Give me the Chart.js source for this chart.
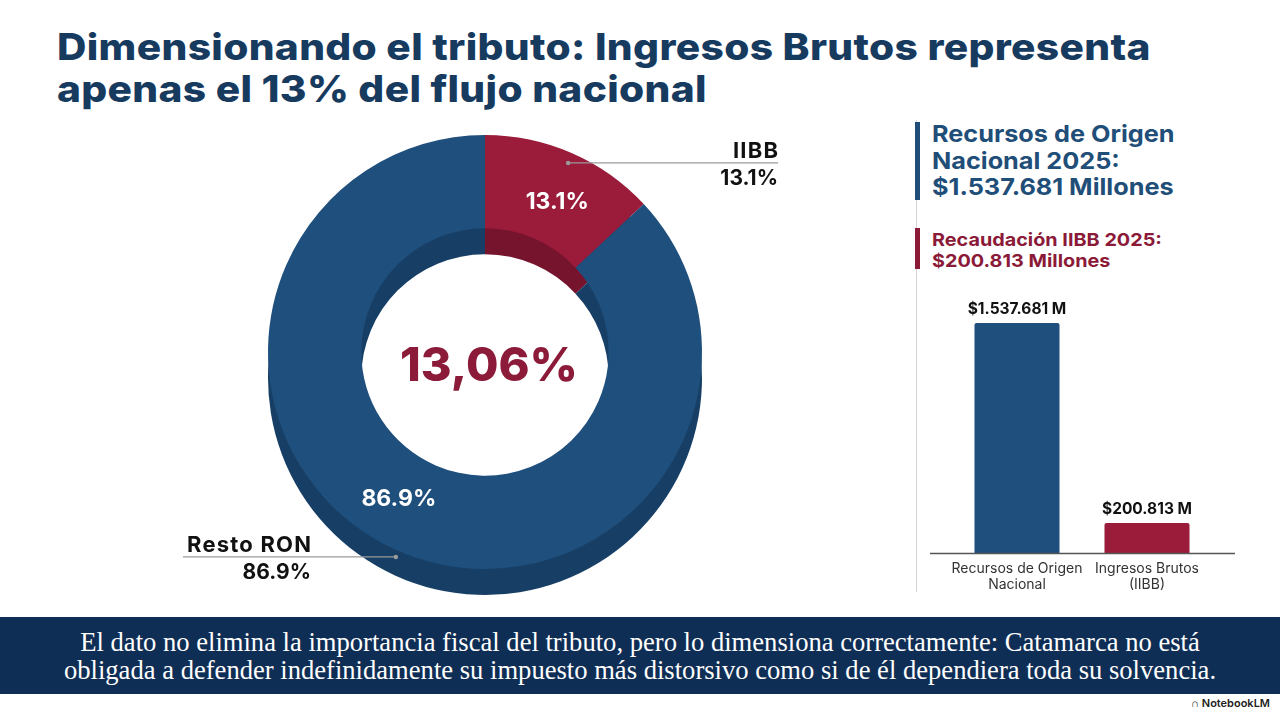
<!DOCTYPE html>
<html>
<head>
<meta charset="utf-8">
<script src="https://cdn.jsdelivr.net/npm/chart.js@4.4.1/dist/chart.umd.min.js"></script>
<style>
  html, body { margin:0; padding:0; background:#ffffff; }
  body { width:1280px; height:714px; position:relative; overflow:hidden; font-family: Inter, "Open Sans", sans-serif; }
  #title { position:absolute; left:57px; top:26px; font-weight:800; font-size:37px; line-height:42px; color:#173a5f;
           letter-spacing:0.3px; transform:scaleX(1.1); transform-origin:0 0; white-space:nowrap; }
  #donutWrap { position:absolute; left:160px; top:120px; width:640px; height:490px; }
  #barWrap { position:absolute; left:920px; top:290px; width:330px; height:320px; }
  #vline { position:absolute; left:916px; top:120px; width:1px; height:472px; background:#d6d6d6; }
  .acc { position:absolute; left:915px; width:5px; }
  #t1 { position:absolute; left:932px; top:121px; font-weight:700; font-size:23.5px; line-height:26.5px; color:#1f4e79;
        transform:scaleX(1.075); transform-origin:0 0; white-space:nowrap; }
  #t2 { position:absolute; left:932px; top:229px; font-weight:700; font-size:18px; line-height:21px; color:#8b1a38;
        transform:scaleX(1.1); transform-origin:0 0; white-space:nowrap; }
  #banner { position:absolute; left:0; top:617px; width:1280px; height:77px; background:#0f2e55; color:#fff;
            font-family:"Liberation Serif", "DejaVu Serif", serif; font-size:26.6px; line-height:28px; text-align:center;
            display:flex; align-items:center; justify-content:center; white-space:nowrap; }
  #nlm { position:absolute; right:10px; top:696px; font-size:11px; color:#222; font-weight:600; }
</style>
</head>
<body>
<div id="title">Dimensionando el tributo: Ingresos Brutos representa<br>apenas el 13% del flujo nacional</div>

<div id="donutWrap"><canvas id="donut" width="640" height="490"></canvas></div>

<div id="vline"></div>
<div class="acc" style="top:122px;height:78px;background:#1f4e79;"></div>
<div class="acc" style="top:228px;height:41px;background:#8b1a38;"></div>
<div id="t1">Recursos de Origen<br>Nacional 2025:<br>$1.537.681 Millones</div>
<div id="t2">Recaudación IIBB 2025:<br>$200.813 Millones</div>

<div id="barWrap"><canvas id="bars" width="330" height="320"></canvas></div>

<div id="banner"><div>El dato no elimina la importancia fiscal del tributo, pero lo dimensiona correctamente: Catamarca no está<br>obligada a defender indefinidamente su impuesto más distorsivo como si de él dependiera toda su solvencia.</div></div>
<div id="nlm">&#x2229; NotebookLM</div>

<script>
// ---- Data ----
const donutLabels = ['IIBB', 'Resto RON'];
const donutValues = [13.06, 86.94];
const donutShort = ['13.1%', '86.9%'];
const centerLabel = '13,06%';

const barCategories = [['Recursos de Origen', 'Nacional'], ['Ingresos Brutos', '(IIBB)']];
const barValues = [1537681, 200813];
const barValueLabels = ['$1.537.681 M', '$200.813 M'];

// ---- Styles ----
const faceColors = ['#9a1b3a', '#1f4f7c'];
const sideColors = ['#76142e', '#173f66'];
const DEPTH = 26;
const SANS = 'Inter, "Open Sans", sans-serif';

const depthPlugin = {
  id: 'depth',
  beforeDatasetsDraw(chart) {
    const ctx = chart.ctx;
    const meta = chart.getDatasetMeta(0);
    meta.data.forEach((arc, i) => {
      const p = arc.getProps(['x','y','startAngle','endAngle','innerRadius','outerRadius'], true);
      ctx.save();
      ctx.beginPath();
      ctx.arc(p.x, p.y + DEPTH, p.outerRadius, p.startAngle, p.endAngle);
      ctx.arc(p.x, p.y + DEPTH, p.innerRadius, p.endAngle, p.startAngle, true);
      ctx.closePath();
      ctx.fillStyle = sideColors[i];
      ctx.fill();
      ctx.restore();
    });
  },
  afterDatasetsDraw(chart) {
    const ctx = chart.ctx;
    const meta = chart.getDatasetMeta(0);
    ctx.save();
    // slice labels
    ctx.fillStyle = '#ffffff';
    ctx.font = '700 23px ' + SANS;
    ctx.textAlign = 'center';
    ctx.textBaseline = 'middle';
    const angOff = [0.033, 0.127];
    meta.data.forEach((arc, i) => {
      const p = arc.getProps(['x','y','startAngle','endAngle','innerRadius','outerRadius'], true);
      const mid = (p.startAngle + p.endAngle) / 2 + angOff[i];
      const r = (p.innerRadius + p.outerRadius) / 2 - 2;
      ctx.fillText(donutShort[i], p.x + Math.cos(mid) * r, p.y + Math.sin(mid) * r + 2);
    });
    // center label
    const a0 = meta.data[0].getProps(['x','y'], true);
    ctx.fillStyle = '#8c1b3a';
    ctx.font = '800 47px ' + SANS;
    ctx.fillText(centerLabel, a0.x + 4, a0.y + 15);

    // callouts
    ctx.lineWidth = 1.2;
    meta.data.forEach((arc, i) => {
      const p = arc.getProps(['x','y','startAngle','endAngle','innerRadius','outerRadius'], true);
      const mid = (p.startAngle + p.endAngle) / 2;
      const rr = i === 0 ? p.outerRadius * 0.96 : p.outerRadius * 1.03;
      const dx = p.x + Math.cos(mid) * rr;
      const dy = p.y + Math.sin(mid) * rr + (i === 0 ? 2 : 0);
      const ex = i === 0 ? p.x + 293 : p.x - 302;
      ctx.strokeStyle = '#9a9a9a';
      ctx.fillStyle = '#9a9a9a';
      ctx.beginPath(); ctx.moveTo(dx, dy); ctx.lineTo(ex, dy); ctx.stroke();
      ctx.beginPath(); ctx.arc(dx, dy, 2.2, 0, Math.PI * 2); ctx.fill();
      ctx.fillStyle = '#111111';
      ctx.textAlign = 'right';
      ctx.textBaseline = 'middle';
      const tx = i === 0 ? p.x + 293 : p.x - 174;
      ctx.font = '700 22px ' + SANS;
      ctx.letterSpacing = '1.2px';
      ctx.fillText(donutLabels[i], tx + 1.2, dy - 12);
      ctx.letterSpacing = '0px';
      ctx.font = '700 21px ' + SANS;
      ctx.fillText(donutShort[i], tx, dy + 16);
    });
    ctx.restore();
  }
};

new Chart(document.getElementById('donut'), {
  type: 'doughnut',
  data: {
    labels: donutLabels,
    datasets: [{ data: donutValues, backgroundColor: faceColors, borderWidth: 0, hoverOffset: 0 }]
  },
  options: {
    responsive: false,
    animation: false,
    cutout: '57%',
    layout: { padding: { left: 108, right: 98, top: 15, bottom: 41 } },
    plugins: { legend: { display: false }, tooltip: { enabled: false } }
  },
  plugins: [depthPlugin]
});

const barPlugin = {
  id: 'barLabels',
  afterDatasetsDraw(chart) {
    const ctx = chart.ctx;
    const xs = chart.scales.x, ys = chart.scales.y;
    ctx.save();
    // baseline
    const base = ys.getPixelForValue(0);
    ctx.strokeStyle = '#555555';
    ctx.lineWidth = 1.3;
    ctx.beginPath(); ctx.moveTo(10, base + 0.5); ctx.lineTo(315, base + 0.5); ctx.stroke();
    ctx.textAlign = 'center';
    barValues.forEach((v, i) => {
      const x = xs.getPixelForValue(i);
      const y = ys.getPixelForValue(v);
      ctx.fillStyle = '#111111';
      ctx.font = '700 15.5px ' + SANS;
      ctx.textBaseline = 'bottom';
      ctx.fillText(barValueLabels[i], x, y - 6);
      ctx.fillStyle = '#333333';
      ctx.font = '400 14px ' + SANS;
      ctx.textBaseline = 'top';
      barCategories[i].forEach((line, k) => ctx.fillText(line, x, base + 9 + k * 16));
    });
    ctx.restore();
  }
};

new Chart(document.getElementById('bars'), {
  type: 'bar',
  data: {
    labels: barCategories,
    datasets: [{ data: barValues, backgroundColor: ['#1f4f7c', '#9a1b3a'], borderRadius: 2, borderSkipped: 'bottom',
                 categoryPercentage: 1, barPercentage: 0.654 }]
  },
  options: {
    responsive: false,
    animation: false,
    layout: { padding: { left: 32, right: 38, top: 33, bottom: 57 } },
    scales: {
      x: { display: false },
      y: { display: false, min: 0, max: 1537681 }
    },
    plugins: { legend: { display: false }, tooltip: { enabled: false } }
  },
  plugins: [barPlugin]
});
</script>
</body>
</html>
